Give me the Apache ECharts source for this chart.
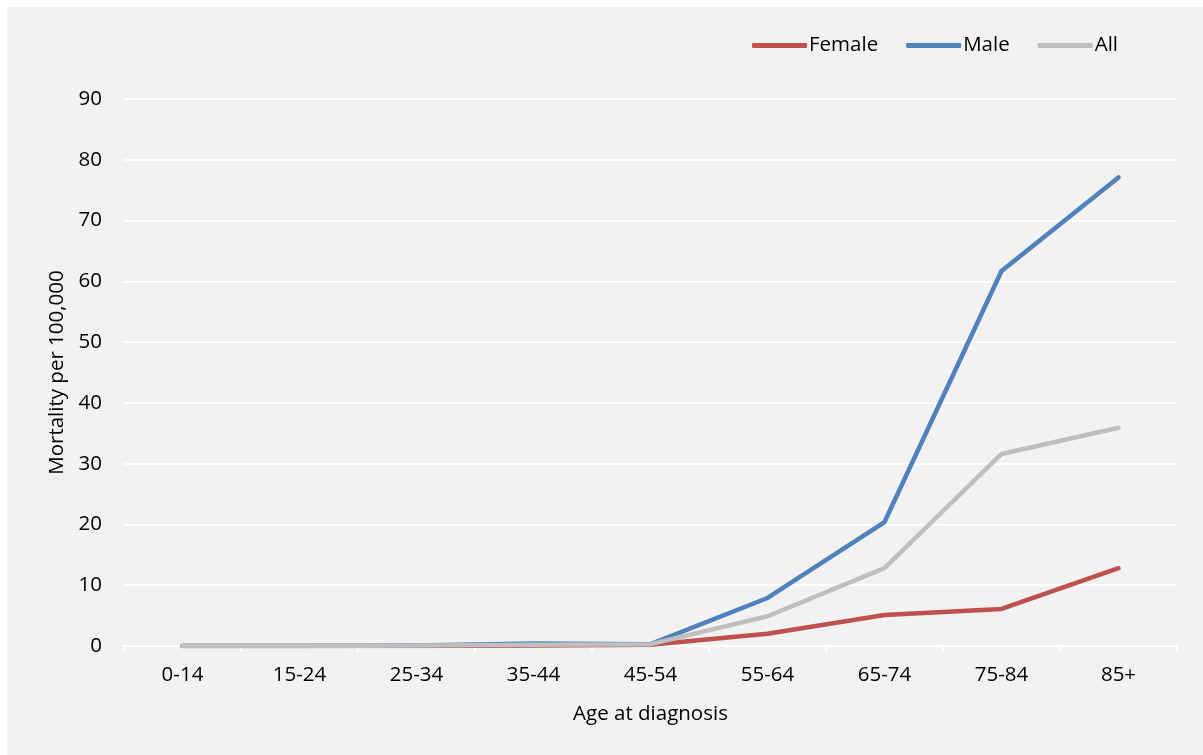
<!DOCTYPE html>
<html>
<head>
<meta charset="utf-8">
<script src="https://cdn.jsdelivr.net/npm/echarts@6/dist/echarts.min.js"></script>
<style>
html,body{margin:0;padding:0;background:#ffffff;}
#chart{width:1203px;height:755px;}
</style>
</head>
<body>
<div id="chart"></div>
<script>
const categories = ['0-14','15-24','25-34','35-44','45-54','55-64','65-74','75-84','85+'];
const female = [0, 0, 0, 0.1, 0.2, 2.0, 5.1, 6.1, 12.8];
const male = [0, 0, 0.1, 0.4, 0.3, 7.9, 20.4, 61.7, 77.1];
const all = [0, 0, 0.1, 0.2, 0.3, 4.9, 12.8, 31.6, 35.9];
const yTicks = {min: 0, max: 90, interval: 10};

const font = '"Open Sans", Lato, sans-serif';
const chart = echarts.init(document.getElementById('chart'), null, {renderer: 'canvas'});
function mk(name, data, color) {
  return {
    name: name, type: 'line', data: data, symbol: 'none', showSymbol: false,
    lineStyle: {color: color, width: 4.5, cap: 'round', join: 'round'},
    itemStyle: {color: color},
    emphasis: {disabled: true}
  };
}
chart.setOption({
  animation: false,
  backgroundColor: '#ffffff',
  graphic: [{type: 'rect', left: 7, top: 7, z: -10, shape: {width: 1196, height: 748}, style: {fill: '#f2f2f2'}}],
  textStyle: {fontFamily: font},
  legend: {
    top: 30, right: 80, itemWidth: 55, itemHeight: 5, itemGap: 28, icon: 'roundRect',
    textStyle: {fontSize: 20.5, color: '#000', fontFamily: font, padding: [0,0,0,-3]},
    data: ['Female', 'Male', 'All']
  },
  grid: {left: 124, right: 26, top: 99, bottom: 109},
  xAxis: {
    type: 'category', data: categories, boundaryGap: true,
    name: 'Age at diagnosis', nameLocation: 'middle', nameGap: 58,
    nameTextStyle: {fontSize: 20.5, color: '#000', fontFamily: font},
    axisLine: {show: true, lineStyle: {color: '#ffffff', width: 2}},
    axisTick: {show: true, length: 6, lineStyle: {color: '#ffffff', width: 2}},
    axisLabel: {fontSize: 20.5, color: '#000', margin: 19, fontFamily: font},
    splitLine: {show: false}
  },
  yAxis: {
    type: 'value', min: yTicks.min, max: yTicks.max, interval: yTicks.interval,
    name: 'Mortality per 100,000', nameLocation: 'middle', nameGap: 56,
    nameTextStyle: {fontSize: 20.5, color: '#000', fontFamily: font},
    axisLine: {show: false}, axisTick: {show: false},
    axisLabel: {fontSize: 20.5, color: '#000', margin: 22, fontFamily: font},
    splitLine: {show: true, lineStyle: {color: '#ffffff', width: 2}}
  },
  series: [mk('Female', female, '#C0504D'), mk('Male', male, '#4F81BD'), mk('All', all, '#BFBFBF')]
});
</script>
</body>
</html>
